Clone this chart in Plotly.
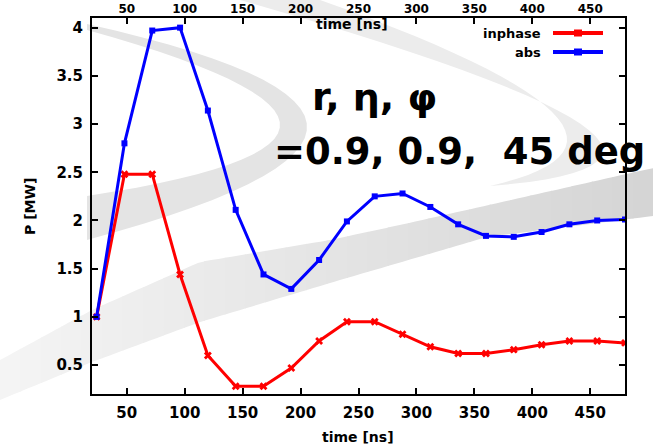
import plotly.graph_objects as go
import numpy as np

# ---- data ----
time_ns = [24, 48, 72, 96, 120, 144, 168, 192, 216, 240, 264, 288, 312, 336, 360, 384, 408, 432, 456, 480]
inphase = [1.00, 2.48, 2.48, 1.44, 0.60, 0.28, 0.28, 0.47, 0.75, 0.95, 0.95, 0.82, 0.69, 0.62, 0.62, 0.66, 0.71, 0.75, 0.75, 0.73]
abs_p = [1.00, 2.80, 3.97, 4.00, 3.14, 2.11, 1.44, 1.29, 1.59, 1.99, 2.25, 2.28, 2.14, 1.96, 1.84, 1.83, 1.88, 1.96, 2.00, 2.01]
x_ticks = [50, 100, 150, 200, 250, 300, 350, 400, 450]
y_ticks = [0.5, 1, 1.5, 2, 2.5, 3, 3.5, 4]
y_ticktext = ["0.5", "1", "1.5", "2", "2.5", "3", "3.5", "4"]

W, H = 653, 447
L, R, T, B = 92, 28, 18, 53
PW, PH = W - L - R, H - T - B

def px(x):
    return (x - L) / PW

def py(y):
    return 1 - (y - T) / PH

def path_from(points):
    s = "M " + " L ".join(f"{px(x):.4f},{py(y):.4f}" for x, y in points) + " Z"
    return s

def qbez(p0, c, p1, n=30):
    t = np.linspace(0, 1, n)
    xs = (1 - t) ** 2 * p0[0] + 2 * (1 - t) * t * c[0] + t ** 2 * p1[0]
    ys = (1 - t) ** 2 * p0[1] + 2 * (1 - t) * t * c[1] + t ** 2 * p1[1]
    return list(zip(xs, ys))

FONT = "DejaVu Sans"

fig = go.Figure()

fig.add_trace(go.Scatter(x=time_ns, y=inphase, mode="lines+markers", name="inphase",
                         line=dict(color="#ff0000", width=3),
                         marker=dict(symbol="x", size=7, color="#ff0000"),
                         showlegend=False))
fig.add_trace(go.Scatter(x=time_ns, y=abs_p, mode="lines+markers", name="abs",
                         line=dict(color="#0000ff", width=3),
                         marker=dict(symbol="square", size=6, color="#0000ff"),
                         showlegend=False))
# invisible trace to activate top axis
fig.add_trace(go.Scatter(x=[time_ns[0]], y=[inphase[0]], xaxis="x2", mode="markers",
                         marker=dict(opacity=0), showlegend=False, hoverinfo="skip"))

shapes = []
# decorative background swooshes
# diagonal band, drawn as graded slices (smooth gradient)
top_pts = [(0, 360), (92, 310), (200, 262), (330, 240), (400, 225), (653, 168)]
bot_pts = [(0, 400), (92, 362), (200, 322), (330, 283), (487, 237), (653, 216)]
tx, ty = zip(*top_pts)
bx, by = zip(*bot_pts)
NS = 32
edges = np.linspace(0, 653, NS + 1)
for i in range(NS):
    xs = np.linspace(edges[i], edges[i + 1] + 1, 4)
    top = [(x, float(np.interp(x, tx, ty))) for x in xs]
    bot = [(x, float(np.interp(x, bx, by))) for x in xs[::-1]]
    g = int(round(244 - 31 * i / (NS - 1)))
    shapes.append(dict(type="path", xref="paper", yref="paper", path=path_from(top + bot),
                       fillcolor=f"rgb({g},{g},{g})", line=dict(width=0), layer="below"))
# crescent 1
c1 = qbez((87, 24), (527, 122), (87, 240)) + qbez((87, 196), (473, 137), (87, 30))
shapes.append(dict(type="path", xref="paper", yref="paper", path=path_from(c1),
                   fillcolor="rgb(228,228,228)", line=dict(width=0), layer="below"))
# crescent 2
c2 = qbez((240, 0), (805, 161), (490, 186)) + qbez((490, 186), (705, 137), (320, 0))
shapes.append(dict(type="path", xref="paper", yref="paper", path=path_from(c2),
                   fillcolor="rgb(236,236,236)", line=dict(width=0), layer="below"))

# custom gnuplot-style key
for yk, col in [(33, "#ff0000"), (52, "#0000ff")]:
    shapes.append(dict(type="line", xref="paper", yref="paper",
                       x0=px(553), x1=px(603), y0=py(yk), y1=py(yk),
                       line=dict(color=col, width=4)))
    shapes.append(dict(type="rect", xref="paper", yref="paper",
                       x0=px(574), x1=px(582), y0=py(yk - 3.5), y1=py(yk + 3.5),
                       fillcolor=col, line=dict(width=0)))

annotations = [
    dict(text="inphase", x=px(543), y=py(33), xref="paper", yref="paper", xanchor="right",
         yanchor="middle", showarrow=False, font=dict(family=FONT, size=13, color="black", weight="bold")),
    dict(text="abs", x=px(543), y=py(52), xref="paper", yref="paper", xanchor="right",
         yanchor="middle", showarrow=False, font=dict(family=FONT, size=13, color="black", weight="bold")),
    dict(text="time [ns]", x=px(358), y=py(437), xref="paper", yref="paper", xanchor="center",
         yanchor="middle", showarrow=False, font=dict(family=FONT, size=14, color="black", weight="bold")),
    dict(text="time [ns]", x=px(352), y=py(24), xref="paper", yref="paper", xanchor="center",
         yanchor="middle", showarrow=False, font=dict(family=FONT, size=14, color="black", weight="bold")),
    dict(text="P [MW]", x=px(30), y=py(207), xref="paper", yref="paper", xanchor="center",
         yanchor="middle", textangle=-90, showarrow=False,
         font=dict(family=FONT, size=14, color="black", weight="bold")),
    dict(text="r, η, φ", x=px(310), y=py(97), xref="paper", yref="paper", xanchor="left",
         yanchor="middle", showarrow=False, font=dict(family=FONT, size=38, color="black", weight="bold")),
    dict(text="=0.9, 0.9,\u00a0 45 deg", x=px(272), y=py(151), xref="paper", yref="paper",
         xanchor="left", yanchor="middle", showarrow=False,
         font=dict(family=FONT, size=37, color="black", weight="bold")),
]

tickfont = dict(family=FONT, size=15, color="black", weight="bold")
fig.update_layout(
    width=W, height=H,
    margin=dict(l=L, r=R, t=T, b=B, autoexpand=False),
    paper_bgcolor="white", plot_bgcolor="rgba(0,0,0,0)",
    shapes=shapes, annotations=annotations,
    xaxis=dict(range=[20, 480], tickvals=x_ticks, ticks="inside", ticklen=6, tickwidth=2,
               tickcolor="black", showline=True, linewidth=2, linecolor="black", mirror="ticks",
               showgrid=False, zeroline=False, tickfont=tickfont, ticklabelstandoff=4,
               automargin=False),
    xaxis2=dict(range=[20, 480], tickvals=x_ticks, overlaying="x", side="top", anchor="y",
                ticks="", showline=False, showgrid=False, zeroline=False,
                tickfont=dict(family=FONT, size=12, color="black", weight="bold"),
                ticklabelstandoff=2, automargin=False),
    yaxis=dict(range=[0.2, 4.1], tickvals=y_ticks, ticktext=y_ticktext, ticks="inside", ticklen=6,
               tickwidth=2, tickcolor="black", showline=True, linewidth=2, linecolor="black",
               mirror="ticks", showgrid=False, zeroline=False, tickfont=tickfont,
               ticklabelstandoff=4, automargin=False),
)

fig.write_html("out.html", config={"displayModeBar": False},
               post_script="document.body.style.margin='0px';")
